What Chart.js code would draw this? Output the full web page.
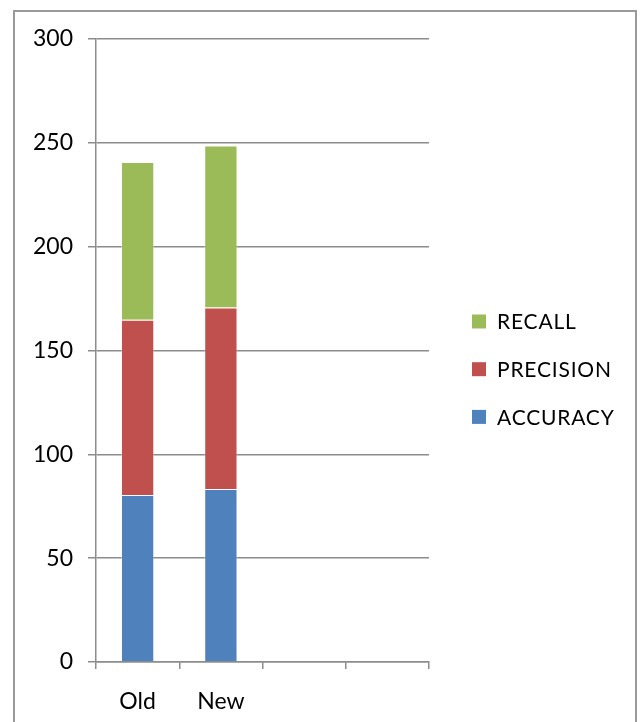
<!DOCTYPE html>
<html>
<head>
<meta charset="utf-8">
<script src="https://cdn.jsdelivr.net/npm/chart.js@4/dist/chart.umd.min.js"></script>
<style>
  html, body { margin: 0; padding: 0; background: #fff; }
  #frame {
    position: absolute; left: 13px; top: 10px; width: 624px; height: 800px;
    border: 2px solid #9a9a9a; box-sizing: border-box;
  }
  #wrap { position: absolute; left: 0; top: 0; width: 640px; height: 722px; }
</style>
</head>
<body>
<div id="frame"></div>
<div id="wrap"><canvas id="c"></canvas></div>
<script>
// Categories (two empty slots keep the axis width of the original sheet)
const categories = ['Old', 'New', '', ''];
// Stacked series values
const accuracy  = [80.4, 83.3, null, null];
const precision = [84.4, 87.4, null, null];
const recall    = [76.0, 78.0, null, null];
// Value axis ticks
const yMin = 0, yMax = 300, yStep = 50;

const FONT = 'Lato, "Open Sans", sans-serif';
const GRID = '#8c8c8c';

// Legend drawn on the right, top entry = top of the stack
const sideLegend = {
  id: 'sideLegend',
  afterDraw(chart) {
    const ctx = chart.ctx;
    const sets = chart.data.datasets.slice().reverse();
    const x0 = 472, y0 = 321.5, gap = 47.7, box = 14;
    ctx.save();
    ctx.font = '21px ' + FONT;
    if ('letterSpacing' in ctx) ctx.letterSpacing = '0.8px';
    ctx.textBaseline = 'middle';
    ctx.textAlign = 'left';
    sets.forEach((ds, i) => {
      const y = y0 + i * gap;
      ctx.fillStyle = ds.backgroundColor;
      ctx.fillRect(x0, y - box / 2, box, box);
      ctx.fillStyle = '#000';
      ctx.fillText(ds.label, x0 + 25, y + 1);
    });
    ctx.restore();
  }
};

new Chart(document.getElementById('c'), {
  type: 'bar',
  data: {
    labels: categories,
    datasets: [
      { label: 'ACCURACY',  data: accuracy,  backgroundColor: '#4F81BD', borderColor: 'rgba(255,255,255,0.35)', borderWidth: 1 },
      { label: 'PRECISION', data: precision, backgroundColor: '#C0504D', borderColor: 'rgba(255,255,255,0.35)', borderWidth: 1 },
      { label: 'RECALL',    data: recall,    backgroundColor: '#9BBB59', borderColor: 'rgba(255,255,255,0.35)', borderWidth: 1 }
    ]
  },
  options: {
    responsive: true,
    maintainAspectRatio: false,
    animation: false,
    layout: { padding: { left: 0, top: 39, right: 211, bottom: 0 } },
    datasets: { bar: { barPercentage: 0.4, categoryPercentage: 1.0 } },
    plugins: { legend: { display: false }, tooltip: { enabled: false } },
    scales: {
      x: {
        stacked: true,
        offset: true,
        grid: { display: true, drawOnChartArea: false, drawTicks: true, tickLength: 7, offset: true, color: GRID, lineWidth: 1.5 },
        border: { display: true, color: GRID, width: 1.5 },
        ticks: { color: '#000', font: { family: FONT, size: 23 }, padding: 19, maxRotation: 0 },
        afterFit(scale) { scale.height = 60; }
      },
      y: {
        stacked: true,
        min: yMin, max: yMax,
        grid: { color: GRID, lineWidth: 1.5, tickLength: 8 },
        border: { display: true, color: GRID, width: 1.5 },
        ticks: { stepSize: yStep, color: '#000', font: { family: FONT, size: 23 }, padding: 15 },
        afterFit(scale) { scale.width = 96; }
      }
    }
  },
  plugins: [sideLegend]
});
</script>
</body>
</html>
